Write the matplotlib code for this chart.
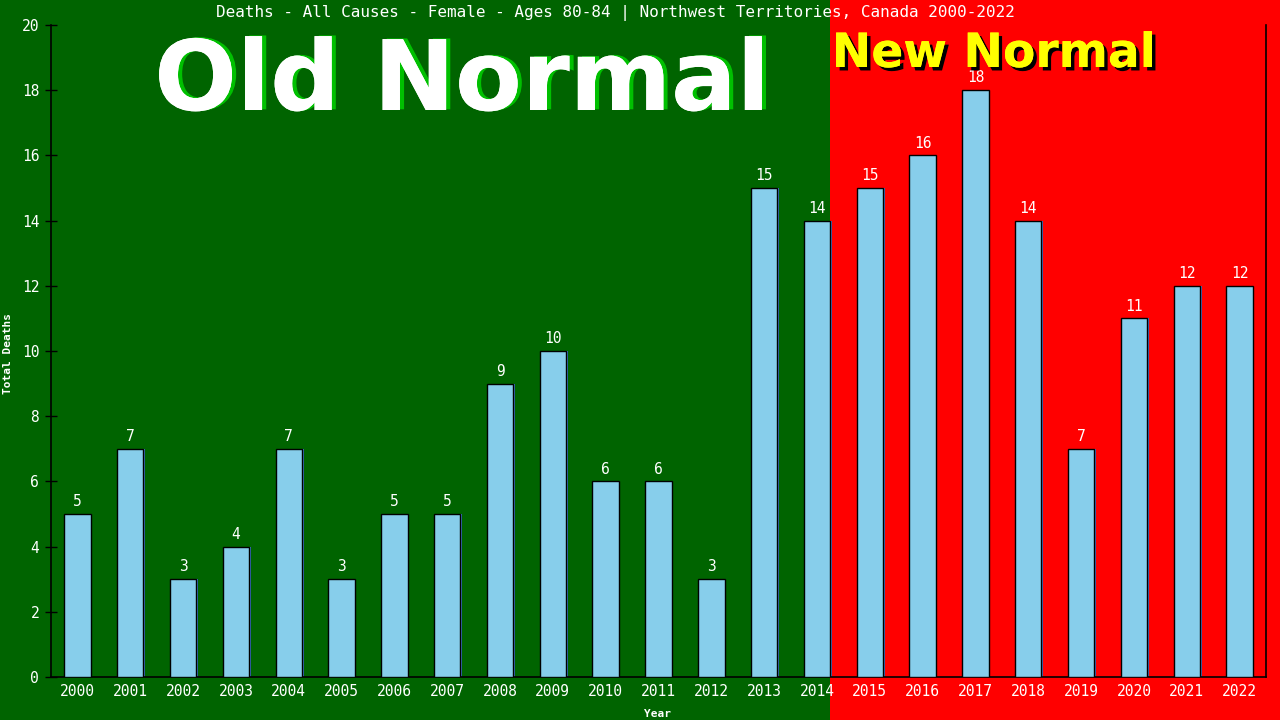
import matplotlib
matplotlib.use('Agg')
import matplotlib.pyplot as plt
import matplotlib.patheffects as pe
import matplotlib.transforms as mtransforms
from matplotlib.patches import Rectangle

years = [str(y) for y in range(2000, 2023)]
deaths = [5, 7, 3, 4, 7, 3, 5, 5, 9, 10, 6, 6, 3, 15, 14, 15, 16, 18, 14, 7, 11, 12, 12]
first_new_normal = '2015'
title = 'Deaths - All Causes - Female - Ages 80-84 | Northwest Territories, Canada 2000-2022'

green_bg = '#006400'
red_bg = '#FF0000'
bar_color = '#87CEEB'
mono = 'DejaVu Sans Mono'

fig = plt.figure(figsize=(12.8, 7.2), dpi=100, facecolor=green_bg)
ax = fig.add_axes([51 / 1280, 1 - 677 / 720, 1215 / 1280, 652 / 720])
ax.set_facecolor('none')

x = list(range(len(years)))
split = years.index(first_new_normal) - 0.75

# red "new normal" background, from the edge of the last old-normal bar to the figure edge
trans = mtransforms.blended_transform_factory(ax.transData, fig.transFigure)
fig.patches.append(Rectangle((split, 0), 100, 1, transform=trans, facecolor=red_bg,
                             edgecolor='none', zorder=-10))

# thin blue shadow on the right of each bar, then the bar itself
ax.bar([i + 0.03 for i in x], deaths, width=0.5, color='#3a6fc0', zorder=2)
bars = ax.bar(x, deaths, width=0.5, color=bar_color, edgecolor='black', linewidth=1, zorder=3)

for i, v in zip(x, deaths):
    ax.annotate(str(v), (i, v), xytext=(0, 3.5), textcoords='offset points', ha='center',
                va='bottom', color='white', fontsize=10.5, family=mono, zorder=4)

ax.set_xlim(-0.5, len(years) - 0.5)
ax.set_ylim(0, 20)
ax.set_yticks(range(0, 21, 2))
ax.set_xticks(x)
ax.set_xticklabels(years)
ax.tick_params(axis='x', length=0, pad=5, colors='white', labelsize=10.5)
ax.tick_params(axis='y', direction='inout', length=9, width=1, color='black',
               labelcolor='white', labelsize=10.5, pad=4)
for lbl in ax.get_xticklabels() + ax.get_yticklabels():
    lbl.set_family(mono)

for side in ['left', 'bottom', 'right']:
    ax.spines[side].set_color('black')
    ax.spines[side].set_linewidth(1.2)
ax.spines['top'].set_visible(False)

ax.set_xlabel('Year', color='white', fontsize=8, family=mono, fontweight='bold')
ax.set_ylabel('Total Deaths', color='white', fontsize=8, family=mono, fontweight='bold')
ax.xaxis.set_label_coords((657 - 51) / 1215, -(709 - 677) / 652)
ax.yaxis.set_label_coords(-(51 - 13) / 1215, (677 - 354) / 652)

fig.text(615 / 1280, 1 - 13 / 720, title, ha='center', va='center', color='white',
         fontsize=11.5, family=mono)

fig.text(462 / 1280, 1 - 110 / 720, 'Old Normal', ha='center', va='baseline', color='white',
         fontsize=70, fontweight='bold', family='DejaVu Sans',
         path_effects=[pe.withSimplePatchShadow(offset=(3, 0.5), shadow_rgbFace='#00C000', alpha=1),
                       pe.Normal()])
fig.text(994 / 1280, 1 - 67 / 720, 'New Normal', ha='center', va='baseline', color='#FFFF00',
         fontsize=34, fontweight='bold', family='DejaVu Sans',
         path_effects=[pe.withSimplePatchShadow(offset=(2.5, -2.5), shadow_rgbFace='black', alpha=1),
                       pe.Normal()])

fig.savefig('out.png', dpi=100, facecolor=green_bg)
